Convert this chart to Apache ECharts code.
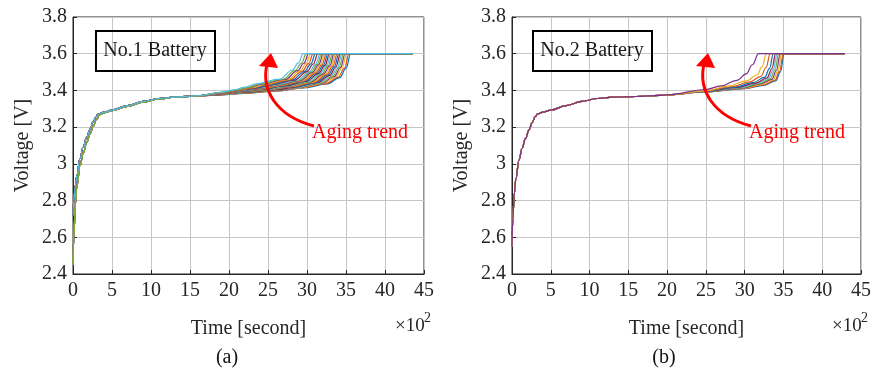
<!DOCTYPE html>
<html>
<head>
<meta charset="utf-8">
<script src="https://cdn.jsdelivr.net/npm/echarts@6/dist/echarts.min.js"></script>
<style>
  html, body { margin: 0; padding: 0; background: #fff; }
  #chart { width: 874px; height: 368px; }
</style>
</head>
<body>
<div id="chart"></div>
<script>
// Charging voltage curves of two cells over repeated cycles (time in seconds).
const palette = ['#0072BD', '#D95319', '#EDB120', '#7E2F8E', '#77AC30', '#4DBEEE', '#A2142F'];

const xTicks = [0, 5, 10, 15, 20, 25, 30, 35, 40, 45];
const yTicks = [2.4, 2.6, 2.8, 3, 3.2, 3.4, 3.6, 3.8];

// Battery 1: shared start of the charge (two slightly different onsets)
const b1HeadFast = [[0,2.72],[10,2.8],[30,2.88],[50,2.94],[90,3.03],[130,3.09],[175,3.145],[220,3.19],[260,3.23],[300,3.26],[320,3.272],[400,3.282],[500,3.293],[700,3.317],[900,3.34],[1100,3.356],[1300,3.364],[1600,3.371]];
const b1HeadSlow = [[0,2.45],[10,2.6],[30,2.78],[50,2.88],[90,2.99],[130,3.055],[175,3.115],[220,3.165],[260,3.205],[300,3.24],[340,3.268],[400,3.279],[500,3.29],[700,3.313],[900,3.336],[1100,3.354],[1300,3.363],[1600,3.37]];
const b1EndTime = 4350;

// Battery 1: end-of-charge rise for each cycle, fresh to aged
const b1Tails = [
  [[1900,3.376],[2200,3.384],[2600,3.396],[2960,3.414],[3260,3.436],[3420,3.47],[3500,3.52],[3560,3.6]],
  [[1900,3.376],[2200,3.385],[2600,3.397],[2940,3.415],[3240,3.437],[3400,3.472],[3480,3.522],[3540,3.6]],
  [[1900,3.377],[2200,3.386],[2600,3.398],[2910,3.415],[3210,3.438],[3370,3.474],[3450,3.524],[3510,3.6]],
  [[1900,3.377],[2200,3.387],[2600,3.399],[2890,3.416],[3190,3.439],[3350,3.476],[3430,3.525],[3490,3.6]],
  [[1900,3.378],[2200,3.388],[2600,3.4],[2870,3.416],[3170,3.44],[3330,3.478],[3410,3.526],[3470,3.6]],
  [[1900,3.378],[2200,3.389],[2600,3.402],[2850,3.417],[3150,3.441],[3310,3.48],[3390,3.528],[3450,3.6]],
  [[1900,3.379],[2200,3.39],[2600,3.403],[2830,3.417],[3130,3.442],[3290,3.482],[3370,3.529],[3430,3.6]],
  [[1900,3.379],[2200,3.391],[2500,3.402],[2810,3.418],[3110,3.443],[3270,3.484],[3350,3.53],[3410,3.6]],
  [[1900,3.38],[2200,3.392],[2500,3.403],[2790,3.419],[3090,3.444],[3250,3.486],[3330,3.532],[3390,3.6]],
  [[1900,3.38],[2200,3.393],[2500,3.404],[2770,3.42],[3070,3.445],[3230,3.487],[3310,3.533],[3370,3.6]],
  [[1900,3.381],[2200,3.394],[2500,3.405],[2750,3.421],[3050,3.446],[3210,3.489],[3290,3.534],[3350,3.6]],
  [[1900,3.381],[2200,3.395],[2500,3.406],[2730,3.422],[3030,3.447],[3190,3.49],[3270,3.535],[3330,3.6]],
  [[1900,3.382],[2200,3.396],[2450,3.405],[2710,3.422],[3010,3.448],[3170,3.492],[3250,3.536],[3310,3.6]],
  [[1900,3.382],[2200,3.397],[2450,3.407],[2690,3.423],[2990,3.449],[3150,3.493],[3230,3.537],[3290,3.6]],
  [[1900,3.383],[2200,3.398],[2450,3.408],[2670,3.424],[2970,3.45],[3130,3.495],[3210,3.538],[3270,3.6]],
  [[1900,3.383],[2200,3.399],[2400,3.407],[2650,3.425],[2950,3.451],[3110,3.496],[3190,3.539],[3250,3.6]],
  [[1900,3.384],[2200,3.4],[2400,3.409],[2630,3.426],[2930,3.452],[3090,3.497],[3170,3.54],[3230,3.6]],
  [[1900,3.384],[2200,3.401],[2400,3.41],[2610,3.427],[2910,3.453],[3070,3.498],[3150,3.541],[3210,3.6]],
  [[1900,3.385],[2200,3.402],[2400,3.412],[2590,3.428],[2890,3.454],[3050,3.5],[3130,3.542],[3190,3.6]],
  [[1900,3.385],[2200,3.403],[2400,3.414],[2570,3.429],[2870,3.455],[3030,3.501],[3110,3.543],[3170,3.6]],
  [[1900,3.386],[2200,3.404],[2350,3.413],[2540,3.43],[2840,3.456],[3000,3.502],[3080,3.544],[3140,3.6]],
  [[1900,3.386],[2200,3.405],[2350,3.415],[2510,3.431],[2810,3.457],[2970,3.504],[3050,3.545],[3110,3.6]],
  [[1900,3.387],[2200,3.406],[2300,3.414],[2480,3.432],[2780,3.458],[2940,3.505],[3020,3.546],[3080,3.6]],
  [[1900,3.387],[2100,3.4],[2300,3.416],[2450,3.433],[2750,3.459],[2910,3.506],[2990,3.547],[3050,3.6]],
  [[1900,3.388],[2100,3.401],[2250,3.415],[2420,3.434],[2720,3.46],[2880,3.508],[2960,3.548],[3020,3.6]],
  [[1900,3.389],[2100,3.403],[2250,3.417],[2390,3.435],[2690,3.461],[2850,3.509],[2930,3.549],[2990,3.6]],
  [[1900,3.39],[2050,3.402],[2200,3.417],[2350,3.436],[2650,3.462],[2810,3.51],[2890,3.55],[2950,3.6]]
];

// Battery 2: shared start of the charge
const b2Head = [[0,2.55],[10,2.7],[30,2.84],[50,2.92],[90,3.02],[130,3.085],[175,3.14],[220,3.185],[260,3.225],[300,3.258],[330,3.272],[400,3.282],[500,3.293],[700,3.317],[900,3.34],[1100,3.356],[1300,3.363],[1600,3.367],[1900,3.373],[2000,3.376]];
const b2EndTime = 4290;

// Battery 2: end-of-charge rise for each cycle, fresh to aged
const b2Tails = [
  [[2500,3.392],[3000,3.41],[3250,3.428],[3400,3.452],[3460,3.5],[3510,3.6]],
  [[2500,3.392],[3000,3.411],[3240,3.43],[3390,3.455],[3450,3.505],[3500,3.6]],
  [[2500,3.393],[2980,3.412],[3220,3.432],[3370,3.458],[3430,3.508],[3480,3.6]],
  [[2500,3.393],[2960,3.413],[3200,3.434],[3350,3.46],[3410,3.51],[3460,3.6]],
  [[2500,3.394],[2940,3.414],[3180,3.436],[3330,3.463],[3390,3.512],[3440,3.6]],
  [[2500,3.394],[2920,3.415],[3160,3.438],[3310,3.466],[3370,3.515],[3420,3.6]],
  [[2500,3.395],[2900,3.416],[3140,3.44],[3290,3.469],[3350,3.518],[3400,3.6]],
  [[2500,3.396],[2870,3.418],[3110,3.443],[3260,3.472],[3320,3.52],[3370,3.6]],
  [[2500,3.397],[2830,3.42],[3070,3.447],[3210,3.477],[3275,3.525],[3330,3.6]],
  [[2500,3.398],[2780,3.423],[3020,3.452],[3160,3.484],[3225,3.53],[3280,3.6]],
  [[2500,3.405],[2700,3.425],[2900,3.455],[3020,3.49],[3100,3.54],[3180,3.6]]
];

const FONT = "Liberation Serif";
const TXT = '#262626';

function makeXAxis(gridIndex) {
  return {
    type: 'value', gridIndex, min: 0, max: 4500, interval: 500,
    name: 'Time [second]', nameLocation: 'middle', nameGap: 45,
    nameTextStyle: { fontFamily: FONT, fontSize: 20, color: TXT },
    axisLine: { show: true, onZero: false, lineStyle: { color: '#262626', width: 1 } },
    axisTick: { show: true, inside: true, length: 4, lineStyle: { color: '#262626' } },
    axisLabel: { fontFamily: FONT, fontSize: 20, color: TXT, margin: 7,
      formatter: v => String(xTicks[Math.round(v / 500)]) },
    splitLine: { show: true, lineStyle: { color: '#c6c6c6', width: 1 } }
  };
}
function makeYAxis(gridIndex) {
  return {
    type: 'value', gridIndex, min: 2.4, max: 3.8, interval: 0.2,
    name: 'Voltage [V]', nameLocation: 'middle', nameGap: 40,
    nameTextStyle: { fontFamily: FONT, fontSize: 20, color: TXT },
    axisLine: { show: true, lineStyle: { color: '#262626', width: 1 } },
    axisTick: { show: true, inside: true, length: 4, lineStyle: { color: '#262626' } },
    axisLabel: { fontFamily: FONT, fontSize: 20, color: TXT, margin: 6,
      formatter: v => String(yTicks[Math.round((v - 2.4) / 0.2)]) },
    splitLine: { show: true, lineStyle: { color: '#c6c6c6', width: 1 } }
  };
}

const series = [];
b1Tails.forEach((tail, i) => {
  const head = i % 2 === 0 ? b1HeadFast : b1HeadSlow;
  series.push({
    type: 'line', xAxisIndex: 0, yAxisIndex: 0, showSymbol: false,
    smooth: 0.4, smoothMonotone: 'x',
    lineStyle: { width: 1.2, color: palette[i % 7] },
    data: head.concat(tail, [[b1EndTime, 3.6]])
  });
});
b2Tails.forEach((tail, i) => {
  series.push({
    type: 'line', xAxisIndex: 1, yAxisIndex: 1, showSymbol: false,
    smooth: 0.4, smoothMonotone: 'x',
    lineStyle: { width: 1.2, color: palette[i % 7] },
    data: b2Head.concat(tail, [[b2EndTime, 3.6]])
  });
});

// Annotation group: labelled box, curved arrow, exponent and panel tag
function txt(x, y, text, size, color, align) {
  return { type: 'text', x, y, z: 101,
    style: { text, fontFamily: FONT, fontSize: size, fill: color, align: align, verticalAlign: 'middle' } };
}
function panelGraphics(dx, label, tag) {
  const red = '#ff0000';
  return [
    { type: 'rect', shape: { x: 96 + dx, y: 31, width: 119, height: 40 },
      style: { fill: null, stroke: '#000', lineWidth: 2 }, z: 100 },
    txt(155 + dx, 51, label, 20, '#1a1a1a', 'center'),
    { type: 'bezierCurve', z: 100,
      shape: { x1: 314 + dx, y1: 126, cpx1: 276 + dx, cpy1: 116, cpx2: 261 + dx, cpy2: 90, x2: 267 + dx, y2: 64 },
      style: { stroke: red, lineWidth: 3, fill: null } },
    { type: 'polygon', z: 100,
      shape: { points: [[271 + dx, 53], [259 + dx, 66], [278 + dx, 68]] },
      style: { fill: red } },
    txt(312 + dx, 133, 'Aging trend', 20, red, 'left'),
    txt(395 + dx, 326, '×10', 19, TXT, 'left'),
    txt(424 + dx, 318, '2', 14, TXT, 'left'),
    txt(227 + dx, 358, tag, 20, '#111', 'center')
  ];
}

const chart = echarts.init(document.getElementById('chart'), null, { renderer: 'canvas' });
chart.setOption({
  animation: false,
  backgroundColor: '#fff',
  grid: [
    { left: 73, top: 17, width: 351, height: 257, show: true, borderColor: '#262626', borderWidth: 1, backgroundColor: 'transparent' },
    { left: 512, top: 17, width: 351, height: 257, show: true, borderColor: '#262626', borderWidth: 1, backgroundColor: 'transparent' }
  ],
  xAxis: [makeXAxis(0), makeXAxis(1)],
  yAxis: [makeYAxis(0), makeYAxis(1)],
  series,
  graphic: panelGraphics(0, 'No.1 Battery', '(a)').concat(panelGraphics(437, 'No.2 Battery', '(b)'))
});
</script>
</body>
</html>
